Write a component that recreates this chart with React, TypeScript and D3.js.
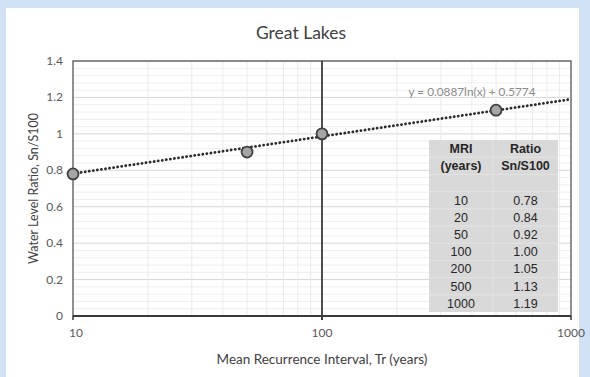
import React from "react";
import * as d3 from "d3";

// Plotted return-period points
const mriYears = [10, 50, 100, 500];
const ratioValues = [0.78, 0.9, 1.0, 1.13];

// Logarithmic trendline y = a ln(x) + b
const trendA = 0.0887;
const trendB = 0.5774;
const trendLabel = "y = 0.0887ln(x) + 0.5774";

// Summary table
const tableMri = ["10", "20", "50", "100", "200", "500", "1000"];
const tableRatio = ["0.78", "0.84", "0.92", "1.00", "1.05", "1.13", "1.19"];

const yTicks = [0, 0.2, 0.4, 0.6, 0.8, 1, 1.2, 1.4];
const xTicks = [10, 100, 1000];

const W = 590;
const H = 377;
const plot = { left: 73, right: 571, top: 61, bottom: 316 };

const calibri = "Lato, 'Open Sans', sans-serif";
const arial = "'Liberation Sans', Arial, sans-serif";

export default function App() {
  const x = d3.scaleLog().domain([10, 1000]).range([plot.left, plot.right]);
  const y = d3.scaleLinear().domain([0, 1.4]).range([plot.bottom, plot.top]);

  // minor grid every 0.04, major every 0.2
  const minorY = d3.range(0, 1.4001, 0.04);
  const minorX = [
    ...d3.range(20, 100, 10),
    ...d3.range(200, 1000, 100),
  ];

  const trendXs = d3.range(0, 201).map((i) => Math.pow(10, 1 + (2 * i) / 200));
  const trendPath = d3
    .line<number>()
    .x((d) => x(d))
    .y((d) => y(trendA * Math.log(d) + trendB))(trendXs);

  // table geometry
  const tb = { left: 429, right: 558, top: 140, mid: 493, row: 17.2 };
  const nRows = 3 + tableMri.length;
  const tbBottom = tb.top + nRows * tb.row;

  return (
    <svg
      width={W}
      height={H}
      style={{ position: "absolute", left: 0, top: 0 }}
      xmlns="http://www.w3.org/2000/svg"
    >
      <rect x={0} y={0} width={W} height={H} fill="#cfe1f2" />
      <rect x={6} y={8} width={573} height={H - 8} fill="#ffffff" />

      <text
        x={301}
        y={39}
        textAnchor="middle"
        fontFamily={calibri}
        fontSize={17.5}
        fill="#404040"
      >
        Great Lakes
      </text>

      {/* grid */}
      {minorY.map((v, i) => (
        <line
          key={"my" + i}
          x1={plot.left}
          x2={plot.right}
          y1={y(v)}
          y2={y(v)}
          stroke={i % 5 === 0 ? "#d6d6d6" : "#eeeeee"}
          strokeWidth={1}
        />
      ))}
      {minorX.map((v, i) => (
        <line
          key={"mx" + i}
          x1={x(v)}
          x2={x(v)}
          y1={plot.top}
          y2={plot.bottom}
          stroke="#ebebeb"
          strokeWidth={1}
        />
      ))}

      {/* frame and axes */}
      <rect
        x={plot.left}
        y={plot.top}
        width={plot.right - plot.left}
        height={plot.bottom - plot.top}
        fill="none"
        stroke="#6b6b6b"
        strokeWidth={1.5}
      />
      <line x1={x(100)} x2={x(100)} y1={plot.top} y2={plot.bottom + 4} stroke="#3a3a3a" strokeWidth={1.8} />
      <line x1={plot.left} x2={plot.right} y1={plot.bottom} y2={plot.bottom} stroke="#3a3a3a" strokeWidth={1.8} />
      {xTicks.map((t) => (
        <line key={"xt" + t} x1={x(t)} x2={x(t)} y1={plot.bottom} y2={plot.bottom + 4} stroke="#3a3a3a" strokeWidth={1.5} />
      ))}

      {/* tick labels */}
      {yTicks.map((t) => (
        <text
          key={"yl" + t}
          x={63}
          y={y(t) + 4}
          textAnchor="end"
          fontFamily={calibri}
          fontSize={12}
          fill="#595959"
        >
          {d3.format("~g")(t)}
        </text>
      ))}
      {xTicks.map((t) => (
        <text
          key={"xl" + t}
          x={t === 10 ? x(t) + 3 : x(t)}
          y={337}
          textAnchor="middle"
          fontFamily={calibri}
          fontSize={12}
          fill="#595959"
        >
          {t}
        </text>
      ))}

      <text
        x={322}
        y={364}
        textAnchor="middle"
        fontFamily={calibri}
        fontSize={13.5}
        fill="#404040"
      >
        Mean Recurrence Interval, Tr (years)
      </text>
      <text
        transform={`translate(38,${(plot.top + plot.bottom) / 2}) rotate(-90)`}
        textAnchor="middle"
        fontFamily={calibri}
        fontSize={12.5}
        fill="#404040"
      >
        Water Level Ratio, Sn/S100
      </text>

      {/* trendline */}
      <path
        d={trendPath || ""}
        fill="none"
        stroke="#2b2b2b"
        strokeWidth={2.8}
        strokeDasharray="0.1 4"
        strokeLinecap="round"
      />
      <text
        x={472}
        y={96}
        textAnchor="middle"
        fontFamily={calibri}
        fontSize={11.8}
        fill="#8c8c8c"
      >
        {trendLabel}
      </text>

      {/* data points */}
      {mriYears.map((m, i) => (
        <circle
          key={"pt" + m}
          cx={x(m)}
          cy={y(ratioValues[i])}
          r={5.5}
          fill="#a5a5a5"
          stroke="#3f3f3f"
          strokeWidth={1.8}
        />
      ))}

      {/* table */}
      <rect x={tb.left} y={tb.top} width={tb.right - tb.left} height={tbBottom - tb.top} fill="#d9d9d9" />
      {d3.range(1, nRows).map((r) => (
        <line
          key={"tr" + r}
          x1={tb.left}
          x2={tb.right}
          y1={tb.top + r * tb.row}
          y2={tb.top + r * tb.row}
          stroke="#e6e6e6"
          strokeWidth={0.8}
        />
      ))}
      <line x1={tb.mid} x2={tb.mid} y1={tb.top} y2={tbBottom} stroke="#e6e6e6" strokeWidth={0.8} />
      {[["MRI", "Ratio"], ["(years)", "Sn/S100"]].map((row, r) => (
        <g key={"th" + r}>
          <text
            x={(tb.left + tb.mid) / 2}
            y={tb.top + r * tb.row + 13}
            textAnchor="middle"
            fontFamily={arial}
            fontWeight="bold"
            fontSize={12.5}
            fill="#262626"
          >
            {row[0]}
          </text>
          <text
            x={(tb.mid + tb.right) / 2}
            y={tb.top + r * tb.row + 13}
            textAnchor="middle"
            fontFamily={arial}
            fontWeight="bold"
            fontSize={12.5}
            fill="#262626"
          >
            {row[1]}
          </text>
        </g>
      ))}
      {tableMri.map((m, i) => (
        <g key={"td" + m}>
          <text
            x={(tb.left + tb.mid) / 2}
            y={tb.top + (i + 3) * tb.row + 13}
            textAnchor="middle"
            fontFamily={arial}
            fontSize={12.5}
            fill="#262626"
          >
            {m}
          </text>
          <text
            x={(tb.mid + tb.right) / 2}
            y={tb.top + (i + 3) * tb.row + 13}
            textAnchor="middle"
            fontFamily={arial}
            fontSize={12.5}
            fill="#262626"
          >
            {tableRatio[i]}
          </text>
        </g>
      ))}
    </svg>
  );
}
